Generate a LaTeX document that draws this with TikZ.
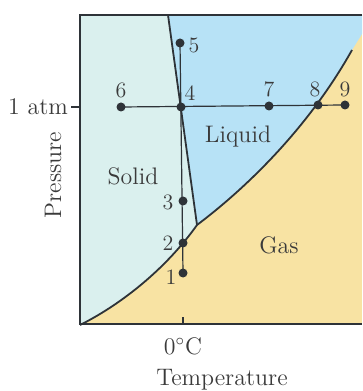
\documentclass[tikz,border=0pt]{standalone}
\usetikzlibrary{calc}
\definecolor{solidc}{HTML}{DAF0EE}
\definecolor{liquidc}{HTML}{B7E2F6}
\definecolor{gasc}{HTML}{F8E3A3}
\definecolor{inkc}{HTML}{2E3338}
\definecolor{txtc}{HTML}{3A3A3A}
\begin{document}
\begin{tikzpicture}[x={(0.5bp,0)},y={(0,-0.5bp)},
  dot/.style={circle,fill=inkc,inner sep=0pt,minimum size=4.5bp},
  lbl/.style={text=txtc,font=\fontsize{12}{14}\selectfont,inner sep=0pt},
  num/.style={text=txtc,font=\fontsize{11}{13}\selectfont,inner sep=0pt},
  curve/.style={draw=inkc,line width=0.9bp},
  frame/.style={draw=inkc,line width=0.6bp}]
\useasboundingbox (0,0) rectangle (362,391);
% regions
\fill[gasc] (80,15) rectangle (362,324);
\fill[liquidc] (168,15) -- (197,225) .. controls (250,185) and (310,125) .. (352,50)
  -- (362,34) -- (362,15) -- cycle;
\fill[solidc] (80,15) -- (168,15) -- (197,225)
  .. controls (165,270) and (120,305) .. (80,325) -- cycle;
% frame
\draw[frame] (362,15) -- (80,15) -- (80,324) -- (362,324);
% curves
\coordinate (top) at (168,15);
\coordinate (tp) at (197,225);
\coordinate (sub0) at (80,325);
\coordinate (vap1) at (352,50);
\draw[curve] (sub0) .. controls (120,305) and (165,270) .. (tp)
  .. controls (250,185) and (310,125) .. (vap1);
\draw[curve] (top) -- (tp);
% ticks
\coordinate (ytk) at (71,107);
\coordinate (ytk2) at (80,107);
\draw[frame] (ytk) -- (ytk2);
\coordinate (xtk) at (183,317);
\coordinate (xtk2) at (183,324);
\draw[frame] (xtk) -- (xtk2);
% points
\node[dot] (p5) at (180,43) {};
\node[dot] (p4) at (181,107) {};
\node[dot] (p6) at (121,107) {};
\node[dot] (p7) at (269,106) {};
\node[dot] (p8) at (318,105) {};
\node[dot] (p9) at (345,105) {};
\node[dot] (p3) at (183,201) {};
\node[dot] (p2) at (183,243) {};
\node[dot] (p1) at (183,273) {};
\draw[draw=inkc,line width=0.6bp] (p5.center) -- (p1.center);
\draw[draw=inkc,line width=0.6bp] (p6.center) -- (p9.center);
% point labels
\node[num] (l5) at (194,45) {5};
\node[num] (l4) at (190,93) {4};
\node[num] (l6) at (121,90) {6};
\node[num] (l7) at (269,89) {7};
\node[num] (l8) at (315,89) {8};
\node[num] (l9) at (345,89) {9};
\node[num] (l3) at (168,202) {3};
\node[num] (l2) at (168,243) {2};
\node[num] (l1) at (171,277) {1};
% region labels
\node[lbl] (liq) at (238,137) {Liquid};
\node[lbl] (sol) at (133,176) {Solid};
\node[lbl] (gas) at (279,245) {Gas};
% axis labels
\node[lbl] (atm) at (38,107) {1 atm};
\node[lbl,rotate=90] (pres) at (53,175) {Pressure};
\node[lbl] (zc) at (183,346) {0$^\circ$C};
\node[lbl] (temp) at (222,380) {Temperature};
\end{tikzpicture}
\end{document}
